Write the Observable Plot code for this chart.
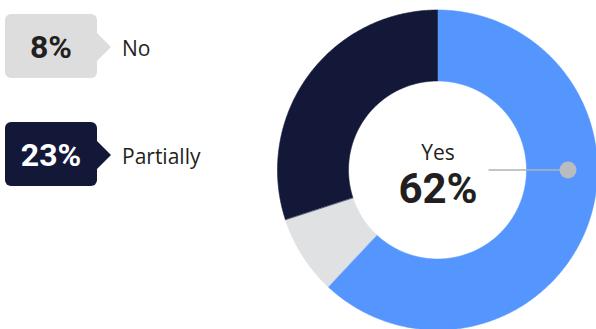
<!DOCTYPE html>
<html>
<head>
<meta charset="utf-8">
<script src="https://cdn.jsdelivr.net/npm/d3@7"></script>
<script src="https://cdn.jsdelivr.net/npm/@observablehq/plot@0.6"></script>
<style>
  html, body { margin: 0; padding: 0; background: #fff; }
  #wrap { position: relative; width: 596px; height: 329px; overflow: hidden; font-family: "Open Sans", Lato, sans-serif; }
  #chart { position: absolute; left: 0; top: 0; }
  .item { position: absolute; left: 5px; display: flex; align-items: center; }
  .box { position: relative; width: 92px; height: 64px; border-radius: 6px; display: flex; align-items: center; justify-content: center;
         font-family: Roboto, sans-serif; font-weight: 700; font-size: 32px; padding-top: 2px; box-sizing: border-box; }
  .box::after { content: ""; position: absolute; right: -14px; top: 50%; margin-top: -13px; width: 0; height: 0;
         border-top: 14px solid transparent; border-bottom: 14px solid transparent; border-left: 14px solid var(--c); }
  .lab { margin-left: 25px; font-size: 21px; color: #231f20; padding-top: 3px; }
</style>
</head>
<body>
<div id="wrap">
  <div id="chart"></div>
</div>
<script>
const categories = ["Yes", "No", "Partially"];
const sliceShares = [62, 8, 30];           // arc sizes as drawn (percent of circle)
const labelValues = ["62%", "8%", "23%"];  // printed labels
const sliceColors = ["#5596fe", "#e0e1e3", "#131838"];
const legendCats = ["No", "Partially"];
const legendBoxColors = ["#dddddd", "#131838"];
const legendTextColors = ["#231f20", "#ffffff"];

const W = 596, H = 329;
const cx = 437.5, cy = 170, R = 160, r0 = 89;

// build annular sector outlines
const pts = [];
let acc = 0;
categories.forEach((c, i) => {
  const a0 = acc / 100 * 2 * Math.PI;
  acc += sliceShares[i];
  const a1 = acc / 100 * 2 * Math.PI;
  const n = Math.ceil(sliceShares[i] * 7.2) + 1;
  for (let k = 0; k <= n; k++) {
    const t = a0 + (a1 - a0) * k / n;
    pts.push({key: c, xi: r0 * Math.sin(t), yi: r0 * Math.cos(t), xo: R * Math.sin(t), yo: R * Math.cos(t)});
  }
});

const centerData = [{label: categories[0], value: labelValues[0], x: 0, y: 0}];
const connector = [{x1: 50.5, x2: (r0 + R) / 2 + 5.5, y: 0.5}];

const plot = Plot.plot({
  width: W, height: H,
  margin: 0,
  x: {domain: [-cx, W - cx], range: [0, W], axis: null},
  y: {domain: [cy - H, cy], range: [H, 0], axis: null},
  color: {domain: categories, range: sliceColors},
  style: {background: "transparent"},
  marks: [
    Plot.area(pts, {x1: "xi", y1: "yi", x2: "xo", y2: "yo", z: "key", fill: "key", stroke: "key", strokeWidth: 0.6, curve: "linear"}),
    Plot.link(connector, {x1: "x1", x2: "x2", y1: "y", y2: "y", stroke: "#b0b2b6", strokeWidth: 1.5}),
    Plot.dot(connector, {x: "x2", y: "y", r: 8.5, fill: "#b9bbbf"}),
    Plot.text(centerData, {x: "x", y: "y", text: "label", dy: -17, fontSize: 21, fill: "#231f20", fontFamily: "'Open Sans', sans-serif", textAnchor: "middle"}),
    Plot.text(centerData, {x: "x", y: "y", text: "value", dy: 19, fontSize: 42, fontWeight: 700, fill: "#231f20", fontFamily: "Roboto, sans-serif", textAnchor: "middle"})
  ]
});
document.getElementById("chart").appendChild(plot);

// legend callouts
const tops = [14, 122];
const wrap = document.getElementById("wrap");
legendCats.forEach((c, j) => {
  const i = categories.indexOf(c);
  const item = document.createElement("div");
  item.className = "item";
  item.style.top = tops[j] + "px";
  const box = document.createElement("div");
  box.className = "box";
  box.style.background = legendBoxColors[j];
  box.style.setProperty("--c", legendBoxColors[j]);
  box.style.color = legendTextColors[j];
  box.textContent = labelValues[i];
  const lab = document.createElement("div");
  lab.className = "lab";
  lab.textContent = c;
  item.appendChild(box);
  item.appendChild(lab);
  wrap.appendChild(item);
});
</script>
</body>
</html>
